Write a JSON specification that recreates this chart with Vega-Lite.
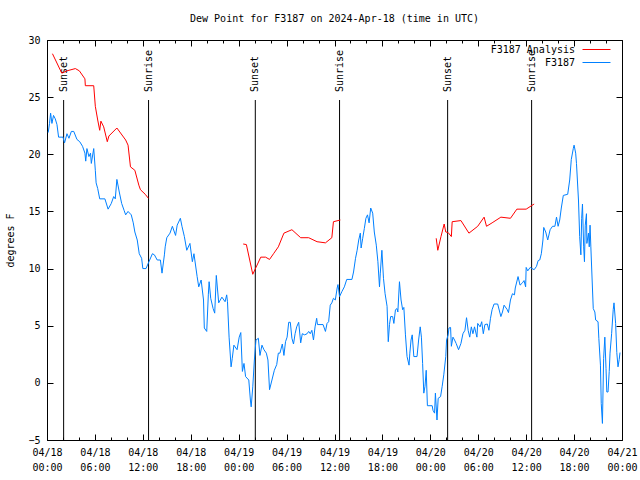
{
"$schema": "https://vega.github.io/schema/vega-lite/v6.json",
"width": 575, "height": 400,
"autosize": {"type": "none"},
"padding": {"left": 47, "top": 40, "right": 18, "bottom": 40},
"title": {"text": "Dew Point for F3187 on 2024-Apr-18 (time in UTC)", "font": "DejaVu Sans Mono", "fontSize": 10, "fontWeight": "normal", "color": "black", "offset": 11},
"config": {
  "view": {"stroke": "black", "strokeWidth": 1},
  "font": "DejaVu Sans Mono",
  "axis": {"grid": false, "domain": false, "labelFont": "DejaVu Sans Mono", "labelFontSize": 10, "labelColor": "black", "tickColor": "black", "tickWidth": 1, "titleFont": "DejaVu Sans Mono", "titleFontWeight": "normal", "titleFontSize": 10, "titleColor": "black", "labelOverlap": false, "labelFlush": false, "labelBound": false},
  "legend": {"labelFont": "DejaVu Sans Mono", "labelFontSize": 10, "labelColor": "black"}
},
"datasets": {
"events": [
{"t":"2024-04-18T02:05Z","label":"Sunset"},{"t":"2024-04-18T12:43Z","label":"Sunrise"},
{"t":"2024-04-19T02:05Z","label":"Sunset"},{"t":"2024-04-19T12:38Z","label":"Sunrise"},
{"t":"2024-04-20T02:10Z","label":"Sunset"},{"t":"2024-04-20T12:41Z","label":"Sunrise"}
],
"anl": [
{"s":"F3187 Analysis","t":"2024-04-18T00:41Z","v":28.8,"g":1},{"s":"F3187 Analysis","t":"2024-04-18T01:51Z","v":27.1,"g":1},{"s":"F3187 Analysis","t":"2024-04-18T02:30Z","v":27.3,"g":1},{"s":"F3187 Analysis","t":"2024-04-18T03:33Z","v":27.5,"g":1},{"s":"F3187 Analysis","t":"2024-04-18T04:03Z","v":27.3,"g":1},{"s":"F3187 Analysis","t":"2024-04-18T04:45Z","v":26.6,"g":1},{"s":"F3187 Analysis","t":"2024-04-18T04:48Z","v":26.0,"g":1},{"s":"F3187 Analysis","t":"2024-04-18T05:51Z","v":26.0,"g":1},{"s":"F3187 Analysis","t":"2024-04-18T06:03Z","v":24.2,"g":1},{"s":"F3187 Analysis","t":"2024-04-18T06:21Z","v":23.0,"g":1},{"s":"F3187 Analysis","t":"2024-04-18T06:36Z","v":22.1,"g":1},{"s":"F3187 Analysis","t":"2024-04-18T06:45Z","v":22.9,"g":1},{"s":"F3187 Analysis","t":"2024-04-18T07:06Z","v":22.4,"g":1},{"s":"F3187 Analysis","t":"2024-04-18T07:33Z","v":21.1,"g":1},{"s":"F3187 Analysis","t":"2024-04-18T07:45Z","v":21.6,"g":1},{"s":"F3187 Analysis","t":"2024-04-18T08:45Z","v":22.3,"g":1},{"s":"F3187 Analysis","t":"2024-04-18T09:51Z","v":21.25,"g":1},{"s":"F3187 Analysis","t":"2024-04-18T10:09Z","v":20.8,"g":1},{"s":"F3187 Analysis","t":"2024-04-18T10:27Z","v":18.9,"g":1},{"s":"F3187 Analysis","t":"2024-04-18T11:00Z","v":18.6,"g":1},{"s":"F3187 Analysis","t":"2024-04-18T11:30Z","v":17.3,"g":1},{"s":"F3187 Analysis","t":"2024-04-18T11:42Z","v":16.9,"g":1},{"s":"F3187 Analysis","t":"2024-04-18T12:18Z","v":16.5,"g":1},{"s":"F3187 Analysis","t":"2024-04-18T12:42Z","v":16.15,"g":1},
{"s":"F3187 Analysis","t":"2024-04-19T00:34Z","v":12.15,"g":2},{"s":"F3187 Analysis","t":"2024-04-19T00:58Z","v":12.1,"g":2},{"s":"F3187 Analysis","t":"2024-04-19T01:46Z","v":9.5,"g":2},{"s":"F3187 Analysis","t":"2024-04-19T02:10Z","v":10.1,"g":2},{"s":"F3187 Analysis","t":"2024-04-19T02:46Z","v":11.0,"g":2},{"s":"F3187 Analysis","t":"2024-04-19T03:22Z","v":11.0,"g":2},{"s":"F3187 Analysis","t":"2024-04-19T03:52Z","v":10.8,"g":2},{"s":"F3187 Analysis","t":"2024-04-19T04:22Z","v":11.3,"g":2},{"s":"F3187 Analysis","t":"2024-04-19T04:58Z","v":11.9,"g":2},{"s":"F3187 Analysis","t":"2024-04-19T05:40Z","v":13.1,"g":2},{"s":"F3187 Analysis","t":"2024-04-19T06:40Z","v":13.4,"g":2},{"s":"F3187 Analysis","t":"2024-04-19T07:46Z","v":12.7,"g":2},{"s":"F3187 Analysis","t":"2024-04-19T08:46Z","v":12.7,"g":2},{"s":"F3187 Analysis","t":"2024-04-19T09:49Z","v":12.35,"g":2},{"s":"F3187 Analysis","t":"2024-04-19T10:52Z","v":12.25,"g":2},{"s":"F3187 Analysis","t":"2024-04-19T11:40Z","v":12.7,"g":2},{"s":"F3187 Analysis","t":"2024-04-19T11:52Z","v":14.1,"g":2},{"s":"F3187 Analysis","t":"2024-04-19T12:44Z","v":14.25,"g":2},
{"s":"F3187 Analysis","t":"2024-04-20T00:44Z","v":12.65,"g":3},{"s":"F3187 Analysis","t":"2024-04-20T00:56Z","v":11.6,"g":3},{"s":"F3187 Analysis","t":"2024-04-20T01:20Z","v":12.8,"g":3},{"s":"F3187 Analysis","t":"2024-04-20T01:44Z","v":13.9,"g":3},{"s":"F3187 Analysis","t":"2024-04-20T01:56Z","v":13.2,"g":3},{"s":"F3187 Analysis","t":"2024-04-20T02:14Z","v":13.15,"g":3},{"s":"F3187 Analysis","t":"2024-04-20T02:38Z","v":12.8,"g":3},{"s":"F3187 Analysis","t":"2024-04-20T02:44Z","v":14.1,"g":3},{"s":"F3187 Analysis","t":"2024-04-20T03:50Z","v":14.2,"g":3},{"s":"F3187 Analysis","t":"2024-04-20T04:50Z","v":13.1,"g":3},{"s":"F3187 Analysis","t":"2024-04-20T05:56Z","v":13.7,"g":3},{"s":"F3187 Analysis","t":"2024-04-20T06:44Z","v":14.5,"g":3},{"s":"F3187 Analysis","t":"2024-04-20T07:02Z","v":13.7,"g":3},{"s":"F3187 Analysis","t":"2024-04-20T07:44Z","v":14.0,"g":3},{"s":"F3187 Analysis","t":"2024-04-20T08:50Z","v":14.5,"g":3},{"s":"F3187 Analysis","t":"2024-04-20T10:02Z","v":14.4,"g":3},{"s":"F3187 Analysis","t":"2024-04-20T10:50Z","v":15.2,"g":3},{"s":"F3187 Analysis","t":"2024-04-20T12:00Z","v":15.2,"g":3},{"s":"F3187 Analysis","t":"2024-04-20T13:00Z","v":15.65,"g":3}
],
"obs": [
{"s":"F3187","t":"2024-04-18T00:09Z","v":21.9},{"s":"F3187","t":"2024-04-18T00:19Z","v":22.7},{"s":"F3187","t":"2024-04-18T00:27Z","v":23.6},{"s":"F3187","t":"2024-04-18T00:37Z","v":22.7},{"s":"F3187","t":"2024-04-18T00:49Z","v":23.4},{"s":"F3187","t":"2024-04-18T01:02Z","v":23.1},{"s":"F3187","t":"2024-04-18T01:15Z","v":22.6},{"s":"F3187","t":"2024-04-18T01:27Z","v":21.5},{"s":"F3187","t":"2024-04-18T02:00Z","v":21.5},{"s":"F3187","t":"2024-04-18T02:12Z","v":21.0},{"s":"F3187","t":"2024-04-18T02:30Z","v":21.8},{"s":"F3187","t":"2024-04-18T02:45Z","v":21.4},{"s":"F3187","t":"2024-04-18T03:03Z","v":22.0},{"s":"F3187","t":"2024-04-18T03:21Z","v":22.0},{"s":"F3187","t":"2024-04-18T03:45Z","v":21.3},{"s":"F3187","t":"2024-04-18T04:06Z","v":21.1},{"s":"F3187","t":"2024-04-18T04:27Z","v":20.7},{"s":"F3187","t":"2024-04-18T04:45Z","v":20.1},{"s":"F3187","t":"2024-04-18T04:51Z","v":19.4},{"s":"F3187","t":"2024-04-18T05:00Z","v":20.5},{"s":"F3187","t":"2024-04-18T05:15Z","v":19.8},{"s":"F3187","t":"2024-04-18T05:27Z","v":20.1},{"s":"F3187","t":"2024-04-18T05:33Z","v":19.2},{"s":"F3187","t":"2024-04-18T05:51Z","v":20.5},{"s":"F3187","t":"2024-04-18T06:03Z","v":18.6},{"s":"F3187","t":"2024-04-18T06:09Z","v":17.5},{"s":"F3187","t":"2024-04-18T06:21Z","v":17.0},{"s":"F3187","t":"2024-04-18T06:36Z","v":16.1},{"s":"F3187","t":"2024-04-18T07:15Z","v":16.1},{"s":"F3187","t":"2024-04-18T07:39Z","v":15.2},{"s":"F3187","t":"2024-04-18T08:03Z","v":15.7},{"s":"F3187","t":"2024-04-18T08:21Z","v":16.3},{"s":"F3187","t":"2024-04-18T08:33Z","v":16.1},{"s":"F3187","t":"2024-04-18T08:45Z","v":17.8},{"s":"F3187","t":"2024-04-18T09:03Z","v":16.7},{"s":"F3187","t":"2024-04-18T09:21Z","v":15.7},{"s":"F3187","t":"2024-04-18T09:39Z","v":15.1},{"s":"F3187","t":"2024-04-18T09:51Z","v":14.7},{"s":"F3187","t":"2024-04-18T10:09Z","v":15.0},{"s":"F3187","t":"2024-04-18T10:33Z","v":14.7},{"s":"F3187","t":"2024-04-18T10:48Z","v":14.0},{"s":"F3187","t":"2024-04-18T11:00Z","v":13.2},{"s":"F3187","t":"2024-04-18T11:18Z","v":12.5},{"s":"F3187","t":"2024-04-18T11:33Z","v":11.3},{"s":"F3187","t":"2024-04-18T11:51Z","v":10.9},{"s":"F3187","t":"2024-04-18T12:00Z","v":10.0},{"s":"F3187","t":"2024-04-18T12:24Z","v":10.0},{"s":"F3187","t":"2024-04-18T12:42Z","v":10.5},{"s":"F3187","t":"2024-04-18T13:12Z","v":11.3},{"s":"F3187","t":"2024-04-18T13:27Z","v":11.2},{"s":"F3187","t":"2024-04-18T13:48Z","v":10.75},{"s":"F3187","t":"2024-04-18T14:12Z","v":10.75},{"s":"F3187","t":"2024-04-18T14:24Z","v":9.6},{"s":"F3187","t":"2024-04-18T14:42Z","v":11.2},{"s":"F3187","t":"2024-04-18T14:48Z","v":11.9},{"s":"F3187","t":"2024-04-18T15:00Z","v":12.7},{"s":"F3187","t":"2024-04-18T15:24Z","v":13.1},{"s":"F3187","t":"2024-04-18T15:42Z","v":13.7},{"s":"F3187","t":"2024-04-18T16:06Z","v":12.9},{"s":"F3187","t":"2024-04-18T16:18Z","v":13.8},{"s":"F3187","t":"2024-04-18T16:42Z","v":14.4},{"s":"F3187","t":"2024-04-18T16:54Z","v":13.7},{"s":"F3187","t":"2024-04-18T17:12Z","v":12.8},{"s":"F3187","t":"2024-04-18T17:30Z","v":11.6},{"s":"F3187","t":"2024-04-18T17:54Z","v":12.2},{"s":"F3187","t":"2024-04-18T18:12Z","v":10.6},{"s":"F3187","t":"2024-04-18T18:24Z","v":11.3},{"s":"F3187","t":"2024-04-18T18:48Z","v":9.3},{"s":"F3187","t":"2024-04-18T19:00Z","v":8.4},{"s":"F3187","t":"2024-04-18T19:18Z","v":9.0},{"s":"F3187","t":"2024-04-18T19:36Z","v":7.25},{"s":"F3187","t":"2024-04-18T19:42Z","v":4.8},{"s":"F3187","t":"2024-04-18T20:00Z","v":4.5},{"s":"F3187","t":"2024-04-18T20:12Z","v":7.7},{"s":"F3187","t":"2024-04-18T20:18Z","v":8.85},{"s":"F3187","t":"2024-04-18T20:30Z","v":7.4},{"s":"F3187","t":"2024-04-18T20:48Z","v":6.5},{"s":"F3187","t":"2024-04-18T21:00Z","v":6.1},{"s":"F3187","t":"2024-04-18T21:12Z","v":9.4},{"s":"F3187","t":"2024-04-18T21:30Z","v":7.0},{"s":"F3187","t":"2024-04-18T21:54Z","v":7.5},{"s":"F3187","t":"2024-04-18T22:18Z","v":7.1},{"s":"F3187","t":"2024-04-18T22:30Z","v":7.7},{"s":"F3187","t":"2024-04-18T22:36Z","v":7.1},{"s":"F3187","t":"2024-04-18T22:48Z","v":4.0},{"s":"F3187","t":"2024-04-18T23:03Z","v":1.4},{"s":"F3187","t":"2024-04-18T23:12Z","v":2.15},{"s":"F3187","t":"2024-04-18T23:24Z","v":3.3},{"s":"F3187","t":"2024-04-18T23:48Z","v":2.9},
{"s":"F3187","t":"2024-04-19T00:04Z","v":4.0},{"s":"F3187","t":"2024-04-19T00:16Z","v":4.4},{"s":"F3187","t":"2024-04-19T00:28Z","v":1.0},{"s":"F3187","t":"2024-04-19T00:40Z","v":1.7},{"s":"F3187","t":"2024-04-19T00:52Z","v":0.55},{"s":"F3187","t":"2024-04-19T01:16Z","v":0.25},{"s":"F3187","t":"2024-04-19T01:28Z","v":-1.5},{"s":"F3187","t":"2024-04-19T01:34Z","v":-2.1},{"s":"F3187","t":"2024-04-19T01:46Z","v":-0.35},{"s":"F3187","t":"2024-04-19T01:58Z","v":2.0},{"s":"F3187","t":"2024-04-19T02:10Z","v":3.75},{"s":"F3187","t":"2024-04-19T02:28Z","v":3.9},{"s":"F3187","t":"2024-04-19T02:40Z","v":2.4},{"s":"F3187","t":"2024-04-19T02:55Z","v":3.3},{"s":"F3187","t":"2024-04-19T03:10Z","v":2.9},{"s":"F3187","t":"2024-04-19T03:28Z","v":2.6},{"s":"F3187","t":"2024-04-19T03:40Z","v":2.0},{"s":"F3187","t":"2024-04-19T03:52Z","v":-0.6},{"s":"F3187","t":"2024-04-19T04:10Z","v":0.25},{"s":"F3187","t":"2024-04-19T04:28Z","v":1.1},{"s":"F3187","t":"2024-04-19T04:46Z","v":1.6},{"s":"F3187","t":"2024-04-19T04:58Z","v":2.6},{"s":"F3187","t":"2024-04-19T05:10Z","v":2.6},{"s":"F3187","t":"2024-04-19T05:28Z","v":3.4},{"s":"F3187","t":"2024-04-19T05:40Z","v":2.4},{"s":"F3187","t":"2024-04-19T05:52Z","v":3.6},{"s":"F3187","t":"2024-04-19T06:04Z","v":4.0},{"s":"F3187","t":"2024-04-19T06:16Z","v":5.3},{"s":"F3187","t":"2024-04-19T06:28Z","v":5.3},{"s":"F3187","t":"2024-04-19T06:40Z","v":3.9},{"s":"F3187","t":"2024-04-19T06:52Z","v":3.4},{"s":"F3187","t":"2024-04-19T07:04Z","v":4.3},{"s":"F3187","t":"2024-04-19T07:16Z","v":4.9},{"s":"F3187","t":"2024-04-19T07:31Z","v":5.3},{"s":"F3187","t":"2024-04-19T07:46Z","v":3.5},{"s":"F3187","t":"2024-04-19T07:58Z","v":4.3},{"s":"F3187","t":"2024-04-19T08:16Z","v":4.2},{"s":"F3187","t":"2024-04-19T08:34Z","v":4.3},{"s":"F3187","t":"2024-04-19T08:46Z","v":4.5},{"s":"F3187","t":"2024-04-19T08:58Z","v":4.3},{"s":"F3187","t":"2024-04-19T09:10Z","v":4.6},{"s":"F3187","t":"2024-04-19T09:22Z","v":3.75},{"s":"F3187","t":"2024-04-19T09:34Z","v":4.9},{"s":"F3187","t":"2024-04-19T09:46Z","v":5.65},{"s":"F3187","t":"2024-04-19T09:52Z","v":5.1},{"s":"F3187","t":"2024-04-19T10:34Z","v":5.1},{"s":"F3187","t":"2024-04-19T10:52Z","v":4.5},{"s":"F3187","t":"2024-04-19T11:04Z","v":5.2},{"s":"F3187","t":"2024-04-19T11:16Z","v":5.35},{"s":"F3187","t":"2024-04-19T11:28Z","v":6.8},{"s":"F3187","t":"2024-04-19T11:40Z","v":7.0},{"s":"F3187","t":"2024-04-19T11:52Z","v":7.4},{"s":"F3187","t":"2024-04-19T12:06Z","v":7.25},{"s":"F3187","t":"2024-04-19T12:20Z","v":8.3},{"s":"F3187","t":"2024-04-19T12:26Z","v":8.6},{"s":"F3187","t":"2024-04-19T12:38Z","v":7.55},{"s":"F3187","t":"2024-04-19T12:56Z","v":8.0},{"s":"F3187","t":"2024-04-19T13:14Z","v":8.4},{"s":"F3187","t":"2024-04-19T13:32Z","v":9.05},{"s":"F3187","t":"2024-04-19T14:11Z","v":9.05},{"s":"F3187","t":"2024-04-19T14:23Z","v":9.7},{"s":"F3187","t":"2024-04-19T14:38Z","v":10.9},{"s":"F3187","t":"2024-04-19T14:50Z","v":11.6},{"s":"F3187","t":"2024-04-19T15:02Z","v":12.5},{"s":"F3187","t":"2024-04-19T15:14Z","v":13.1},{"s":"F3187","t":"2024-04-19T15:20Z","v":11.8},{"s":"F3187","t":"2024-04-19T15:32Z","v":12.65},{"s":"F3187","t":"2024-04-19T15:44Z","v":13.5},{"s":"F3187","t":"2024-04-19T15:56Z","v":14.4},{"s":"F3187","t":"2024-04-19T16:08Z","v":14.7},{"s":"F3187","t":"2024-04-19T16:20Z","v":14.0},{"s":"F3187","t":"2024-04-19T16:32Z","v":15.3},{"s":"F3187","t":"2024-04-19T16:47Z","v":14.85},{"s":"F3187","t":"2024-04-19T16:59Z","v":13.2},{"s":"F3187","t":"2024-04-19T17:14Z","v":12.05},{"s":"F3187","t":"2024-04-19T17:26Z","v":10.6},{"s":"F3187","t":"2024-04-19T17:38Z","v":8.4},{"s":"F3187","t":"2024-04-19T17:44Z","v":9.6},{"s":"F3187","t":"2024-04-19T17:56Z","v":11.6},{"s":"F3187","t":"2024-04-19T18:08Z","v":9.15},{"s":"F3187","t":"2024-04-19T18:20Z","v":7.8},{"s":"F3187","t":"2024-04-19T18:35Z","v":6.7},{"s":"F3187","t":"2024-04-19T18:44Z","v":3.6},{"s":"F3187","t":"2024-04-19T18:53Z","v":5.1},{"s":"F3187","t":"2024-04-19T19:02Z","v":5.8},{"s":"F3187","t":"2024-04-19T19:17Z","v":5.8},{"s":"F3187","t":"2024-04-19T19:26Z","v":5.2},{"s":"F3187","t":"2024-04-19T19:38Z","v":6.4},{"s":"F3187","t":"2024-04-19T19:50Z","v":6.5},{"s":"F3187","t":"2024-04-19T19:56Z","v":6.2},{"s":"F3187","t":"2024-04-19T20:08Z","v":8.85},{"s":"F3187","t":"2024-04-19T20:20Z","v":7.25},{"s":"F3187","t":"2024-04-19T20:32Z","v":6.4},{"s":"F3187","t":"2024-04-19T20:41Z","v":6.6},{"s":"F3187","t":"2024-04-19T20:53Z","v":4.2},{"s":"F3187","t":"2024-04-19T21:05Z","v":2.3},{"s":"F3187","t":"2024-04-19T21:20Z","v":1.55},{"s":"F3187","t":"2024-04-19T21:26Z","v":2.6},{"s":"F3187","t":"2024-04-19T21:35Z","v":3.75},{"s":"F3187","t":"2024-04-19T21:44Z","v":4.2},{"s":"F3187","t":"2024-04-19T21:56Z","v":2.3},{"s":"F3187","t":"2024-04-19T22:20Z","v":2.3},{"s":"F3187","t":"2024-04-19T22:32Z","v":3.75},{"s":"F3187","t":"2024-04-19T22:44Z","v":4.9},{"s":"F3187","t":"2024-04-19T22:53Z","v":4.0},{"s":"F3187","t":"2024-04-19T23:02Z","v":1.7},{"s":"F3187","t":"2024-04-19T23:11Z","v":-0.9},{"s":"F3187","t":"2024-04-19T23:20Z","v":-0.3},{"s":"F3187","t":"2024-04-19T23:29Z","v":1.1},{"s":"F3187","t":"2024-04-19T23:38Z","v":-2.0},
{"s":"F3187","t":"2024-04-20T00:14Z","v":-2.0},{"s":"F3187","t":"2024-04-20T00:20Z","v":-2.4},{"s":"F3187","t":"2024-04-20T00:32Z","v":-2.65},{"s":"F3187","t":"2024-04-20T00:38Z","v":-0.9},{"s":"F3187","t":"2024-04-20T00:50Z","v":-3.25},{"s":"F3187","t":"2024-04-20T00:59Z","v":-1.35},{"s":"F3187","t":"2024-04-20T01:17Z","v":-1.2},{"s":"F3187","t":"2024-04-20T01:29Z","v":-0.3},{"s":"F3187","t":"2024-04-20T01:41Z","v":0.7},{"s":"F3187","t":"2024-04-20T01:56Z","v":2.3},{"s":"F3187","t":"2024-04-20T02:02Z","v":3.75},{"s":"F3187","t":"2024-04-20T02:14Z","v":4.2},{"s":"F3187","t":"2024-04-20T02:20Z","v":4.8},{"s":"F3187","t":"2024-04-20T02:32Z","v":4.85},{"s":"F3187","t":"2024-04-20T02:38Z","v":3.2},{"s":"F3187","t":"2024-04-20T02:50Z","v":4.0},{"s":"F3187","t":"2024-04-20T03:02Z","v":3.75},{"s":"F3187","t":"2024-04-20T03:14Z","v":3.45},{"s":"F3187","t":"2024-04-20T03:32Z","v":2.9},{"s":"F3187","t":"2024-04-20T03:50Z","v":3.45},{"s":"F3187","t":"2024-04-20T04:05Z","v":4.3},{"s":"F3187","t":"2024-04-20T04:20Z","v":4.6},{"s":"F3187","t":"2024-04-20T04:32Z","v":5.7},{"s":"F3187","t":"2024-04-20T04:44Z","v":4.6},{"s":"F3187","t":"2024-04-20T04:56Z","v":4.0},{"s":"F3187","t":"2024-04-20T05:08Z","v":4.9},{"s":"F3187","t":"2024-04-20T05:20Z","v":4.3},{"s":"F3187","t":"2024-04-20T05:32Z","v":4.9},{"s":"F3187","t":"2024-04-20T05:50Z","v":4.0},{"s":"F3187","t":"2024-04-20T05:56Z","v":5.2},{"s":"F3187","t":"2024-04-20T06:14Z","v":4.9},{"s":"F3187","t":"2024-04-20T06:26Z","v":5.35},{"s":"F3187","t":"2024-04-20T06:38Z","v":4.3},{"s":"F3187","t":"2024-04-20T06:50Z","v":5.1},{"s":"F3187","t":"2024-04-20T07:08Z","v":5.15},{"s":"F3187","t":"2024-04-20T07:20Z","v":4.6},{"s":"F3187","t":"2024-04-20T07:32Z","v":5.65},{"s":"F3187","t":"2024-04-20T07:44Z","v":6.4},{"s":"F3187","t":"2024-04-20T07:59Z","v":6.9},{"s":"F3187","t":"2024-04-20T08:26Z","v":6.9},{"s":"F3187","t":"2024-04-20T08:50Z","v":5.8},{"s":"F3187","t":"2024-04-20T09:02Z","v":6.2},{"s":"F3187","t":"2024-04-20T09:14Z","v":6.8},{"s":"F3187","t":"2024-04-20T09:38Z","v":6.4},{"s":"F3187","t":"2024-04-20T09:47Z","v":6.15},{"s":"F3187","t":"2024-04-20T10:02Z","v":7.25},{"s":"F3187","t":"2024-04-20T10:17Z","v":7.8},{"s":"F3187","t":"2024-04-20T10:32Z","v":7.7},{"s":"F3187","t":"2024-04-20T10:38Z","v":8.3},{"s":"F3187","t":"2024-04-20T10:59Z","v":9.3},{"s":"F3187","t":"2024-04-20T11:14Z","v":8.55},{"s":"F3187","t":"2024-04-20T11:32Z","v":8.75},{"s":"F3187","t":"2024-04-20T11:44Z","v":8.95},{"s":"F3187","t":"2024-04-20T11:56Z","v":8.4},{"s":"F3187","t":"2024-04-20T12:00Z","v":10.1},{"s":"F3187","t":"2024-04-20T12:12Z","v":9.8},{"s":"F3187","t":"2024-04-20T12:30Z","v":10.1},{"s":"F3187","t":"2024-04-20T13:00Z","v":9.9},{"s":"F3187","t":"2024-04-20T13:18Z","v":10.2},{"s":"F3187","t":"2024-04-20T13:30Z","v":10.7},{"s":"F3187","t":"2024-04-20T13:42Z","v":10.75},{"s":"F3187","t":"2024-04-20T13:54Z","v":11.3},{"s":"F3187","t":"2024-04-20T14:06Z","v":12.5},{"s":"F3187","t":"2024-04-20T14:12Z","v":13.6},{"s":"F3187","t":"2024-04-20T14:27Z","v":13.2},{"s":"F3187","t":"2024-04-20T14:42Z","v":12.5},{"s":"F3187","t":"2024-04-20T15:00Z","v":13.4},{"s":"F3187","t":"2024-04-20T15:18Z","v":13.7},{"s":"F3187","t":"2024-04-20T15:36Z","v":13.7},{"s":"F3187","t":"2024-04-20T15:48Z","v":14.5},{"s":"F3187","t":"2024-04-20T16:00Z","v":13.7},{"s":"F3187","t":"2024-04-20T16:12Z","v":14.25},{"s":"F3187","t":"2024-04-20T16:24Z","v":15.3},{"s":"F3187","t":"2024-04-20T16:39Z","v":16.4},{"s":"F3187","t":"2024-04-20T17:12Z","v":16.5},{"s":"F3187","t":"2024-04-20T17:27Z","v":17.75},{"s":"F3187","t":"2024-04-20T17:39Z","v":19.55},{"s":"F3187","t":"2024-04-20T17:54Z","v":20.5},{"s":"F3187","t":"2024-04-20T18:00Z","v":20.8},{"s":"F3187","t":"2024-04-20T18:12Z","v":20.1},{"s":"F3187","t":"2024-04-20T18:18Z","v":19.2},{"s":"F3187","t":"2024-04-20T18:33Z","v":16.0},{"s":"F3187","t":"2024-04-20T18:42Z","v":12.8},{"s":"F3187","t":"2024-04-20T18:51Z","v":11.2},{"s":"F3187","t":"2024-04-20T18:57Z","v":14.4},{"s":"F3187","t":"2024-04-20T19:03Z","v":15.65},{"s":"F3187","t":"2024-04-20T19:12Z","v":11.9},{"s":"F3187","t":"2024-04-20T19:18Z","v":10.6},{"s":"F3187","t":"2024-04-20T19:24Z","v":13.8},{"s":"F3187","t":"2024-04-20T19:33Z","v":14.8},{"s":"F3187","t":"2024-04-20T19:36Z","v":12.2},{"s":"F3187","t":"2024-04-20T19:48Z","v":13.1},{"s":"F3187","t":"2024-04-20T19:54Z","v":11.9},{"s":"F3187","t":"2024-04-20T20:00Z","v":13.8},{"s":"F3187","t":"2024-04-20T20:06Z","v":11.9},{"s":"F3187","t":"2024-04-20T20:18Z","v":8.3},{"s":"F3187","t":"2024-04-20T20:24Z","v":6.5},{"s":"F3187","t":"2024-04-20T20:36Z","v":6.2},{"s":"F3187","t":"2024-04-20T20:42Z","v":5.5},{"s":"F3187","t":"2024-04-20T21:00Z","v":5.35},{"s":"F3187","t":"2024-04-20T21:06Z","v":3.9},{"s":"F3187","t":"2024-04-20T21:18Z","v":1.55},{"s":"F3187","t":"2024-04-20T21:24Z","v":-1.8},{"s":"F3187","t":"2024-04-20T21:33Z","v":-3.55},{"s":"F3187","t":"2024-04-20T21:42Z","v":2.15},{"s":"F3187","t":"2024-04-20T21:51Z","v":4.0},{"s":"F3187","t":"2024-04-20T22:00Z","v":1.25},{"s":"F3187","t":"2024-04-20T22:06Z","v":-0.8},{"s":"F3187","t":"2024-04-20T22:15Z","v":-0.8},{"s":"F3187","t":"2024-04-20T22:24Z","v":1.0},{"s":"F3187","t":"2024-04-20T22:30Z","v":2.6},{"s":"F3187","t":"2024-04-20T22:42Z","v":4.3},{"s":"F3187","t":"2024-04-20T22:54Z","v":6.4},{"s":"F3187","t":"2024-04-20T23:00Z","v":7.0},{"s":"F3187","t":"2024-04-20T23:12Z","v":5.2},{"s":"F3187","t":"2024-04-20T23:21Z","v":2.65},{"s":"F3187","t":"2024-04-20T23:30Z","v":1.4},{"s":"F3187","t":"2024-04-20T23:39Z","v":2.05},{"s":"F3187","t":"2024-04-20T23:45Z","v":2.65}
]
},
"layer": [
{
 "data": {"name": "events"},
 "mark": {"type": "rule", "color": "black", "strokeWidth": 1},
 "encoding": {
  "x": {"field": "t", "type": "temporal",
        "scale": {"type": "utc", "nice": false, "domain": [1713398400000, 1713657600000]},
        "axis": {"orient": "top", "labels": false, "title": null, "values": [1713398400000,1713420000000,1713441600000,1713463200000,1713484800000,1713506400000,1713528000000,1713549600000,1713571200000,1713592800000,1713614400000,1713636000000,1713657600000], "tickSize": 6, "offset": -6}},
  "y": {"datum": -5, "type": "quantitative", "scale": {"domain": [-5, 30], "nice": false},
        "axis": {"orient": "right", "labels": false, "title": null, "values": [-5, 0, 5, 10, 15, 20, 25, 30], "tickSize": 6, "offset": -6}},
  "y2": {"datum": 24.75}
 }
},
{
 "data": {"name": "events"},
 "mark": {"type": "text", "angle": 270, "align": "left", "baseline": "middle", "fontSize": 10, "font": "DejaVu Sans Mono", "color": "black"},
 "encoding": {
  "x": {"field": "t", "type": "temporal", "axis": {"orient": "top", "labels": false, "title": null, "values": [1713398400000,1713405600000,1713412800000,1713420000000,1713427200000,1713434400000,1713441600000,1713448800000,1713456000000,1713463200000,1713470400000,1713477600000,1713484800000,1713492000000,1713499200000,1713506400000,1713513600000,1713520800000,1713528000000,1713535200000,1713542400000,1713549600000,1713556800000,1713564000000,1713571200000,1713578400000,1713585600000,1713592800000,1713600000000,1713607200000,1713614400000,1713621600000,1713628800000,1713636000000,1713643200000,1713650400000,1713657600000], "tickSize": 3, "offset": -3}},
  "y": {"datum": 25.45, "type": "quantitative", "axis": null},
  "text": {"field": "label"}
 }
},
{
 "data": {"name": "anl"},
 "mark": {"type": "line", "strokeWidth": 1},
 "encoding": {
  "x": {"field": "t", "type": "temporal", "axis": {"orient": "bottom", "labels": false, "title": null, "values": [1713398400000,1713405600000,1713412800000,1713420000000,1713427200000,1713434400000,1713441600000,1713448800000,1713456000000,1713463200000,1713470400000,1713477600000,1713484800000,1713492000000,1713499200000,1713506400000,1713513600000,1713520800000,1713528000000,1713535200000,1713542400000,1713549600000,1713556800000,1713564000000,1713571200000,1713578400000,1713585600000,1713592800000,1713600000000,1713607200000,1713614400000,1713621600000,1713628800000,1713636000000,1713643200000,1713650400000,1713657600000], "tickSize": 3, "offset": -3}},
  "y": {"field": "v", "type": "quantitative", "axis": null},
  "detail": {"field": "g"},
  "color": {"field": "s", "type": "nominal",
            "scale": {"domain": ["F3187 Analysis"], "range": ["#ff0000"]},
            "legend": {"title": null, "orient": "none", "legendX": 544, "legendY": 4, "padding": 0, "symbolType": "M-3,0H3", "symbolSize": 87, "symbolStrokeWidth": 1, "symbolStrokeColor": "#ff0000", "labelAlign": "right", "labelOffset": -27}}
 }
},
{
 "data": {"name": "obs"},
 "mark": {"type": "line", "strokeWidth": 1},
 "encoding": {
  "x": {"field": "t", "type": "temporal",
        "axis": {"orient": "bottom", "title": null, "values": [1713398400000,1713420000000,1713441600000,1713463200000,1713484800000,1713506400000,1713528000000,1713549600000,1713571200000,1713592800000,1713614400000,1713636000000,1713657600000], "tickSize": 6, "offset": -6,
                 "labelExpr": "[utcFormat(datum.value, '%m/%d'), utcFormat(datum.value, '%H:%M')]", "labelPadding": 7, "labelLineHeight": 15}},
  "y": {"field": "v", "type": "quantitative",
        "axis": {"orient": "left", "title": "degrees F", "values": [-5, 0, 5, 10, 15, 20, 25, 30], "tickSize": 6, "offset": -6, "labelPadding": 7,
                 "titleX": -43, "titleY": 200, "titleAngle": 270, "titleAlign": "center", "titleBaseline": "middle"}},
  "stroke": {"field": "s", "type": "nominal",
            "scale": {"domain": ["F3187"], "range": ["#0080ff"]},
            "legend": {"title": null, "orient": "none", "legendX": 544, "legendY": 17, "padding": 0, "symbolType": "M-3,0H3", "symbolSize": 87, "symbolStrokeWidth": 1, "symbolStrokeColor": "#0080ff", "labelAlign": "right", "labelOffset": -27}}
 }
}
],
"resolve": {"axis": {"x": "independent", "y": "independent"}}
}
